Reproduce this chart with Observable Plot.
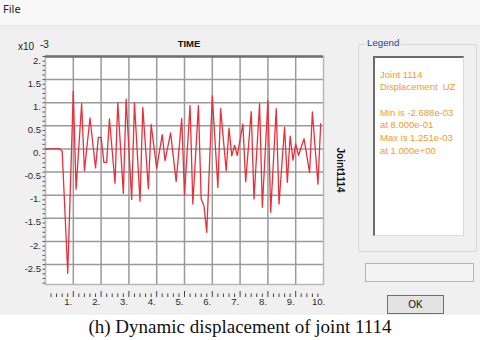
<!DOCTYPE html>
<html>
<head>
<meta charset="utf-8">
<script src="https://cdn.jsdelivr.net/npm/d3@7"></script>
<script src="https://cdn.jsdelivr.net/npm/@observablehq/plot@0.6"></script>
<style>
  html, body { margin: 0; padding: 0; background: #ffffff; }
  #page { position: relative; width: 480px; height: 340px; overflow: hidden; background: #ffffff;
          font-family: Arial, "Liberation Sans", sans-serif; }
  #menubar { position: absolute; left: 0; top: 0; width: 480px; height: 25px; background: #f8f8f8;
             border-bottom: 1px solid #e2e2e2; }
  #menubar span { position: absolute; left: 3px; top: 1px; font-size: 11px; color: #222; font-family: "Noto Sans", Arial, sans-serif; }
  #dialog { position: absolute; left: 0; top: 26px; width: 480px; height: 290px; background: #f0f0f0; }
  #chart { position: absolute; left: 0; top: 0; }
  .abs { position: absolute; white-space: pre; }
  #title { left: 169px; top: 38px; width: 40px; text-align: center; font-weight: bold; font-size: 9.5px; color: #111; }
  #x10 { left: 18px; top: 41px; font-size: 10px; color: #222; }
  #exp { left: 40px; top: 38.5px; font-size: 10px; color: #222; }
  #ylabel { left: 315px; top: 164px; width: 50px; text-align: center; font-weight: bold; font-size: 10px; color: #111;
            transform: rotate(90deg); transform-origin: 25px 6px; }
  #group { left: 358px; top: 44px; width: 117px; height: 206px; border: 1px solid #d6d6d6; border-radius: 2px; }
  #grouplabel { left: 365px; top: 37px; padding: 0 2px; background: #f0f0f0; color: #263e99; font-size: 9.7px; }
  #legendbox { left: 373px; top: 56px; width: 88px; height: 177px; background: #ffffff;
               border-left: 2px solid #6b6b6b; border-top: 2px solid #6b6b6b;
               border-right: 1px solid #dadada; border-bottom: 1px solid #dadada; }
  #legendtext { left: 380px; top: 68.5px; font-size: 9.5px; line-height: 12.7px; color: #f29a2e; }
  #statusbox { left: 365px; top: 263px; width: 107px; height: 17px; background: #f4f4f4; border: 1px solid #b3b3b3; }
  #okbtn { left: 387px; top: 295px; width: 55px; height: 17px; background: #e3e3e3; border: 1px solid #2f7fc8;
           text-align: center; line-height: 17px; font-size: 10px; color: #111; }
  #caption { left: 0; top: 315px; width: 480px; height: 25px; background: #ffffff; text-align: center; line-height: 23px;
             font-family: "Liberation Serif", "Times New Roman", serif; font-size: 19px; color: #111; }
</style>
</head>
<body>
<div id="page">
  <div id="menubar"><span>File</span></div>
  <div id="dialog"></div>
  <div id="chart"></div>
  <div class="abs" id="title"></div>
  <div class="abs" id="x10"></div>
  <div class="abs" id="exp"></div>
  <div class="abs" id="ylabel"></div>
  <div class="abs" id="group"></div>
  <div class="abs" id="grouplabel"></div>
  <div class="abs" id="legendbox"></div>
  <div class="abs" id="legendtext"></div>
  <div class="abs" id="statusbox"></div>
  <div class="abs" id="okbtn"></div>
  <div class="abs" id="caption"></div>
</div>
<script>
// ---- data (displacement UZ in units of 1e-3) ----
const time = [0, 0.5, 0.6, 0.8, 1.0, 1.1, 1.3, 1.4, 1.6, 1.8, 1.9, 2.0, 2.1, 2.2, 2.3, 2.5, 2.6, 2.8, 2.9, 3.1,
              3.2, 3.4, 3.5, 3.7, 3.8, 4.0, 4.2, 4.3, 4.5, 4.7, 4.9, 5.0, 5.2, 5.3, 5.5, 5.6, 5.7, 5.8, 6.0, 6.2,
              6.3, 6.5, 6.6, 6.7, 6.8, 6.9, 7.1, 7.2, 7.4, 7.5, 7.7, 7.8, 8.0, 8.1, 8.3, 8.4, 8.6, 8.7, 8.8, 8.9,
              9.0, 9.1, 9.3, 9.5, 9.6, 9.8, 9.9];
const uz   = [0, 0.01, -0.05, -2.688, 1.251, -0.87, 0.98, -0.47, 0.67, -0.41, 0.25, 0.25, -0.29, -0.29, 0.65, -0.74, 1.0, -0.96, 1.08, -1.09,
              1.0, -1.13, 0.9, -0.86, 0.53, -0.42, 0.31, -0.25, 0.35, -0.70, 0.66, -0.99, 0.94, -1.19, 0.94, -1.08, -1.23, -1.8, 1.15, -0.83,
              0.87, -0.47, 0.45, -0.15, 0.08, -0.14, 0.54, -0.71, 0.81, -1.08, 0.98, -1.26, 1.05, -1.37, 0.87, -1.19, 0.47, -0.72, 0.28, -0.24,
              0.11, -0.14, 0.22, -0.51, 0.80, -0.76, 0.55];
const xTickValues = [1, 2, 3, 4, 5, 6, 7, 8, 9, 10];
const xGridValues = [1, 2, 3, 4, 5, 6, 7, 8, 9];
const yTickValues = [2, 1.5, 1, 0.5, 0, -0.5, -1, -1.5, -2, -2.5];
const yGridValues = [1.5, 1, 0.5, 0, -0.5, -1, -1.5, -2, -2.5];
const xDomain = [0, 10];
const yDomain = [-2.93, 2.0];

const titleText = "TIME";
const scaleText = "x10";
const scaleExp = "-3";
const yAxisText = "Joint1114";
const legendTitle = "Legend";
const legendLines = ["Joint 1114", "Displacement  UZ", "", "Min is -2.688e-03", "at 8.000e-01", "Max is 1.251e-03", "at 1.000e+00"];
const menuText = "File";
const okText = "OK";
const captionText = "(h) Dynamic displacement of joint 1114";

// ---- chart ----
const data = time.map((t, i) => ({t, v: uz[i]}));
const minorX = d3.range(1, 50).map(i => i / 5).filter(v => Math.abs(v - Math.round(v)) > 1e-6);
const minorY = d3.range(-29, 21).map(i => i / 10);
const fmtY = d => Number.isInteger(d) ? d + "." : String(d);

const chart = Plot.plot({
  width: 480, height: 316,
  marginLeft: 45, marginRight: 157, marginTop: 56, marginBottom: 32,
  style: {background: "transparent", fontFamily: "Arial, 'Liberation Sans', sans-serif", fontSize: "9.5px", color: "#2a2a2a"},
  x: {domain: xDomain, label: null},
  y: {domain: yDomain, label: null},
  marks: [
    Plot.frame({fill: "white", stroke: "#b8b8b8", strokeWidth: 1.5}),
    Plot.gridX({ticks: xGridValues, stroke: "#9a9a9a", strokeOpacity: 1, strokeWidth: 1.5}),
    Plot.gridY({ticks: yGridValues, stroke: "#9a9a9a", strokeOpacity: 1, strokeWidth: 1.5}),
    Plot.ruleY([yDomain[1]], {stroke: "#6f6f6f", strokeWidth: 2.4}),
    Plot.line(data, {x: "t", y: "v", stroke: "#e8303a", strokeWidth: 1.3}),
    Plot.axisX({ticks: minorX, tickSize: 3.5, tickFormat: () => "", dy: 9.5, stroke: "#444", label: null}),
    Plot.axisX({ticks: xGridValues, tickSize: 6, tickFormat: () => "", dy: 7, stroke: "#444", label: null}),
    Plot.axisX({ticks: xTickValues, tickSize: 0, tickPadding: 14, tickFormat: d => d + ".", dx: -5, fill: "#2a2a2a", label: null}),
    Plot.axisY({ticks: minorY, tickSize: 2.5, tickFormat: () => "", stroke: "#555", label: null}),
    Plot.axisY({ticks: yTickValues, tickSize: 0, tickPadding: 4.5, tickFormat: fmtY, dy: 4, fill: "#2a2a2a", label: null})
  ]
});
document.getElementById("chart").appendChild(chart);

document.querySelector("#menubar span").textContent = menuText;
document.getElementById("title").textContent = titleText;
document.getElementById("x10").textContent = scaleText;
document.getElementById("exp").textContent = scaleExp;
document.getElementById("ylabel").textContent = yAxisText;
document.getElementById("grouplabel").textContent = legendTitle;
document.getElementById("legendtext").textContent = legendLines.join("\n");
document.getElementById("okbtn").textContent = okText;
document.getElementById("caption").textContent = captionText;
</script>
</body>
</html>
